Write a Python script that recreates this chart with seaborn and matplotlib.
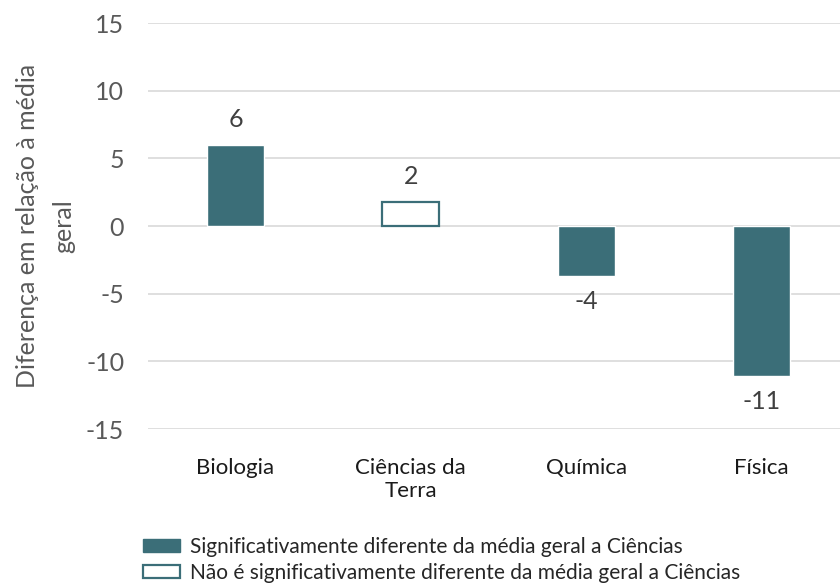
import matplotlib
matplotlib.use("Agg")
import matplotlib.pyplot as plt
from matplotlib.patches import Patch
import numpy as np
import pandas as pd
import seaborn as sns

categorias = ["Biologia", "Ciências da\nTerra", "Química", "Física"]
valores = [6.0, 1.8, -3.7, -11.1]
rotulos = ["6", "2", "-4", "-11"]
significativo = [True, False, True, True]
yticks = [-15, -10, -5, 0, 5, 10, 15]

COR = "#3b6e78"

df = pd.DataFrame({"cat": categorias, "val": valores})

sns.set_theme(style="white")
plt.rcParams['font.family'] = ['Lato', 'DejaVu Sans']

fig = plt.figure(figsize=(8.4, 5.83), dpi=100)
ax = fig.add_axes([0.176, 0.264, 0.835, 0.6965])

sns.barplot(data=df, x="cat", y="val", color=COR, width=0.325, saturation=1, ax=ax, zorder=3)

for p, sig in zip(ax.patches, significativo):
    if not sig:
        p.set_facecolor("white")
        p.set_edgecolor(COR)
        p.set_linewidth(1.6)

for i, (v, r) in enumerate(zip(valores, rotulos)):
    if v >= 0:
        ax.annotate(r, (i, v), xytext=(0, 10), textcoords="offset points",
                    ha="center", va="bottom", fontsize=18, color="#404040")
    else:
        ax.annotate(r, (i, v), xytext=(0, -10), textcoords="offset points",
                    ha="center", va="top", fontsize=18, color="#404040")

ax.set_ylim(-15, 15)
ax.set_xlim(-0.5, 3.5)
ax.set_yticks(yticks)
ax.set_yticklabels([str(t) for t in yticks])
ax.yaxis.grid(True, color="#d9d9d9", linewidth=1.2, zorder=0)
ax.set_axisbelow(True)
for s in ax.spines.values():
    s.set_visible(False)
ax.tick_params(axis="y", labelsize=18, colors="#595959", length=0, pad=17)
ax.tick_params(axis="x", labelsize=16, colors="#1a1a1a", length=0, pad=21)
ax.set_xlabel("")
ax.set_ylabel("Diferença em relação à média\ngeral", fontsize=18, color="#595959", labelpad=8,
              linespacing=1.68)

handles = [Patch(facecolor=COR, edgecolor=COR),
           Patch(facecolor="white", edgecolor=COR, linewidth=1.6)]
fig.legend(handles, ["Significativamente diferente da média geral a Ciências",
                     "Não é significativamente diferente da média geral a Ciências"],
           loc="lower left", bbox_to_anchor=(0.170, 0.0), frameon=False, fontsize=15,
           handlelength=1.8, handleheight=0.6, labelspacing=0.3, handletextpad=0.45,
           borderpad=0, borderaxespad=0)

fig.savefig("out.png", dpi=100)
